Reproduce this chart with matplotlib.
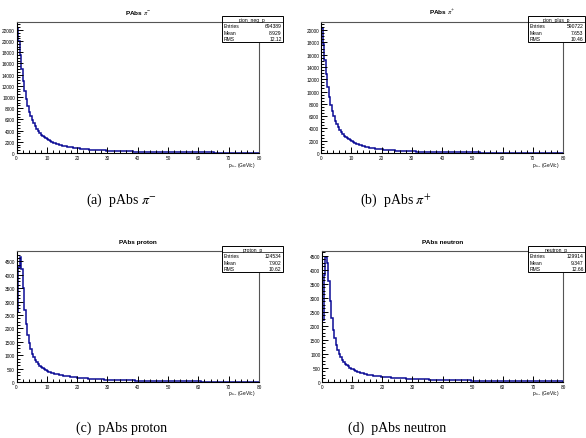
"""
Distribuciones de momento absoluto (pAbs) para piones, protones y neutrones.

Cuatro histogramas estilo ROOT en una figura 2x2, con caja de
estadisticas y pie de figura para cada panel.
"""

import numpy as np
import matplotlib.pyplot as plt
from matplotlib.patches import Rectangle
from matplotlib.ticker import MultipleLocator, AutoMinorLocator


# ============================================================
# DATOS (bins de 0.5 GeV/c entre 0 y 80)
# ============================================================

BIN_EDGES = np.linspace(0, 80, 161)

PION_NEG = [
    22300, 20000, 17500, 15000, 12800, 11000, 9600, 8400, 7400, 6600,
    5900, 5300, 4800, 4350, 3950, 3600, 3300, 3050, 2800, 2600,
    2420, 2260, 2120, 1990, 1870, 1760, 1660, 1570, 1490, 1410,
    1340, 1270, 1210, 1150, 1100, 1050, 1000, 960, 920, 880,
    845, 810, 780, 750, 720, 695, 670, 645, 622, 600,
    580, 560, 542, 525, 508, 492, 477, 462, 448, 435,
    422, 410, 398, 387, 376, 366, 356, 346, 337, 328,
    320, 312, 304, 296, 289, 282, 275, 268, 262, 256,
    250, 244, 238, 233, 228, 223, 218, 213, 208, 204,
    200, 195, 191, 187, 183, 179, 175, 172, 168, 165,
    161, 158, 155, 152, 149, 146, 143, 140, 137, 134,
    131, 129, 126, 124, 121, 119, 116, 114, 112, 110,
    108, 106, 104, 102, 100, 98, 96, 94, 92, 91,
    89, 87, 86, 84, 82, 81, 79, 78, 76, 75,
    73, 72, 71, 69, 68, 67, 65, 64, 63, 62,
    61, 60, 58, 57, 56, 55, 54, 53, 52, 51,
]

PION_POS = [
    20300, 17800, 15200, 12800, 10800, 9100, 7800, 6800, 5950, 5250,
    4650, 4150, 3750, 3400, 3100, 2830, 2600, 2390, 2200, 2040,
    1890, 1760, 1640, 1530, 1430, 1340, 1260, 1180, 1110, 1050,
    990, 935, 885, 840, 795, 755, 718, 683, 650, 620,
    592, 565, 540, 516, 494, 473, 453, 434, 416, 400,
    384, 369, 355, 342, 329, 317, 306, 295, 285, 275,
    266, 257, 249, 241, 233, 226, 219, 212, 206, 200,
    194, 188, 183, 178, 173, 168, 163, 159, 155, 151,
    147, 143, 139, 136, 132, 129, 126, 123, 120, 117,
    114, 111, 109, 106, 104, 101, 99, 97, 95, 93,
    91, 89, 87, 85, 83, 81, 80, 78, 76, 75,
    73, 72, 70, 69, 67, 66, 65, 63, 62, 61,
    60, 59, 57, 56, 55, 54, 53, 52, 51, 50,
    49, 48, 47, 46, 45, 45, 44, 43, 42, 41,
    41, 40, 39, 38, 38, 37, 36, 36, 35, 34,
    34, 33, 33, 32, 31, 31, 30, 30, 29, 29,
]

PROTON = [
    2600, 4300, 4650, 4200, 3500, 2700, 2150, 1750, 1450, 1220,
    1050, 920, 820, 740, 670, 610, 560, 515, 478, 445,
    415, 390, 367, 346, 327, 310, 294, 280, 267, 255,
    244, 233, 223, 214, 205, 197, 190, 183, 176, 170,
    164, 158, 153, 148, 143, 138, 134, 130, 126, 122,
    118, 115, 111, 108, 105, 102, 99, 96, 93, 91,
    88, 86, 83, 81, 79, 77, 75, 73, 71, 69,
    67, 65, 64, 62, 60, 59, 57, 56, 54, 53,
    52, 50, 49, 48, 47, 45, 44, 43, 42, 41,
    40, 39, 38, 37, 36, 35, 35, 34, 33, 32,
    31, 31, 30, 29, 28, 28, 27, 26, 26, 25,
    25, 24, 23, 23, 22, 22, 21, 21, 20, 20,
    19, 19, 18, 18, 17, 17, 17, 16, 16, 15,
    15, 15, 14, 14, 14, 13, 13, 13, 12, 12,
    12, 11, 11, 11, 11, 10, 10, 10, 10, 9,
    9, 9, 9, 8, 8, 8, 8, 8, 7, 7,
]

NEUTRON = [
    2200, 3800, 4450, 4250, 3600, 2900, 2300, 1870, 1560, 1320,
    1130, 990, 880, 790, 715, 650, 598, 553, 513, 478,
    447, 420, 396, 374, 354, 336, 320, 305, 291, 279,
    267, 257, 247, 238, 229, 221, 214, 207, 200, 194,
    188, 182, 177, 172, 167, 162, 158, 154, 150, 146,
    142, 139, 135, 132, 129, 126, 123, 120, 117, 115,
    112, 110, 107, 105, 103, 101, 99, 97, 95, 93,
    91, 89, 87, 86, 84, 82, 81, 79, 78, 76,
    75, 73, 72, 71, 69, 68, 67, 66, 64, 63,
    62, 61, 60, 59, 58, 57, 56, 55, 54, 53,
    52, 51, 50, 49, 49, 48, 47, 46, 45, 45,
    44, 43, 42, 42, 41, 40, 40, 39, 38, 38,
    37, 37, 36, 35, 35, 34, 34, 33, 33, 32,
    32, 31, 31, 30, 30, 29, 29, 28, 28, 27,
    27, 27, 26, 26, 25, 25, 25, 24, 24, 23,
    23, 23, 22, 22, 22, 21, 21, 21, 20, 20,
]

HIST_NAMES = ["pion_neg_p", "pion_plus_p", "proton_p", "neutron_p"]
TITLES = [r"PAbs $\pi^{-}$", r"PAbs $\pi^{+}$", "PAbs proton", "PAbs neutron"]
CAPTIONS = [r"(a)  pAbs $\pi^{-}$", r"(b)  pAbs $\pi^{+}$",
            "(c)  pAbs proton", "(d)  pAbs neutron"]
ENTRIES = ["694389", "590722", "124534", "129914"]
MEANS = ["8.929", "7.653", "7.902", "9.347"]
RMS = ["12.12", "10.46", "10.62", "12.66"]
Y_STEPS = [2000, 2000, 500, 500]


# ============================================================
# CONFIGURACIÓN GENERAL
# ============================================================

W, H = 586, 439

plt.rcParams["font.family"] = "Liberation Sans"
plt.rcParams["mathtext.fontset"] = "stix"

HIST_COLOR = "#0c0c96"

# marcos en pixeles: (izquierda, arriba, derecha, abajo)
FRAMES = [(16.5, 23, 259, 154), (321, 23, 563, 154),
          (16.5, 252, 259, 383), (322, 252, 563, 383)]
STAT_BOXES = [(222, 17, 283, 43), (528, 17, 585, 43),
              (222, 247, 283, 273), (528, 247, 585, 273)]
CAPTION_POS = [(121, 200), (396, 200), (122, 428), (397, 428)]


def px_to_fig(x, y):
    return x / W, 1 - y / H


def draw_stats(fig, box, name, entries, mean, rms):

    x0, y0, x1, y1 = box
    fx0, fy1 = px_to_fig(x0, y1)
    fx1, fy0 = px_to_fig(x1, y0)

    fig.patches.append(Rectangle(
        (fx0, fy1), fx1 - fx0, fy0 - fy1,
        transform=fig.transFigure, facecolor="white",
        edgecolor="black", linewidth=0.7, zorder=5
    ))

    head_y = y0 + (y1 - y0) * 0.22
    hx0, hy = px_to_fig(x0, head_y)
    hx1, _ = px_to_fig(x1, head_y)
    fig.add_artist(plt.Line2D([hx0, hx1], [hy, hy], transform=fig.transFigure,
                              color="black", linewidth=0.5, zorder=6))

    cx, cy = px_to_fig((x0 + x1) / 2, y0 + (y1 - y0) * 0.12)
    fig.text(cx, cy, name, ha="center", va="center", fontsize=3.6, zorder=7)

    rows = [("Entries", entries), ("Mean", mean), ("RMS", rms)]
    for i, (label, value) in enumerate(rows):
        ry = y0 + (y1 - y0) * (0.38 + 0.25 * i)
        lx, ly = px_to_fig(x0 + 1.5, ry)
        vx, _ = px_to_fig(x1 - 1.5, ry)
        fig.text(lx, ly, label, ha="left", va="center", fontsize=3.6, zorder=7)
        fig.text(vx, ly, value, ha="right", va="center", fontsize=3.6, zorder=7)


# ============================================================
# FIGURA
# ============================================================

fig = plt.figure(figsize=(W / 100, H / 100), dpi=100)

series = [PION_NEG, PION_POS, PROTON, NEUTRON]

for i, values in enumerate(series):

    left, top, right, bottom = FRAMES[i]
    ax = fig.add_axes([left / W, 1 - bottom / H, (right - left) / W, (bottom - top) / H])

    ax.stairs(values, BIN_EDGES, color=HIST_COLOR, linewidth=1.1)

    ax.set_xlim(0, 80)
    ax.set_ylim(0, max(values) * 1.05)

    ax.xaxis.set_major_locator(MultipleLocator(10))
    ax.xaxis.set_minor_locator(AutoMinorLocator(5))
    ax.yaxis.set_major_locator(MultipleLocator(Y_STEPS[i]))
    ax.yaxis.set_minor_locator(AutoMinorLocator(4))

    ax.tick_params(which="both", direction="in", labelsize=3.4,
                   top=False, right=False, pad=1.2, width=0.7)
    ax.tick_params(which="major", length=4.5)
    ax.tick_params(which="minor", length=2.2)

    for side in ("top", "right"):
        ax.spines[side].set_color("#555555")
    for spine in ax.spines.values():
        spine.set_linewidth(0.8)

    ax.set_title(TITLES[i], fontsize=4.6, fontweight="bold", pad=6)

    ax.text(0.985, -11 / (bottom - top), r"p$_{Abs}$ (GeV/c)", transform=ax.transAxes,
            ha="right", va="center", fontsize=3.4)

    draw_stats(fig, STAT_BOXES[i], HIST_NAMES[i], ENTRIES[i], MEANS[i], RMS[i])

    cx, cy = px_to_fig(*CAPTION_POS[i])
    fig.text(cx, cy, CAPTIONS[i], ha="center", va="center",
             fontsize=10, family="Liberation Serif")

fig.savefig("out.png", dpi=100)
